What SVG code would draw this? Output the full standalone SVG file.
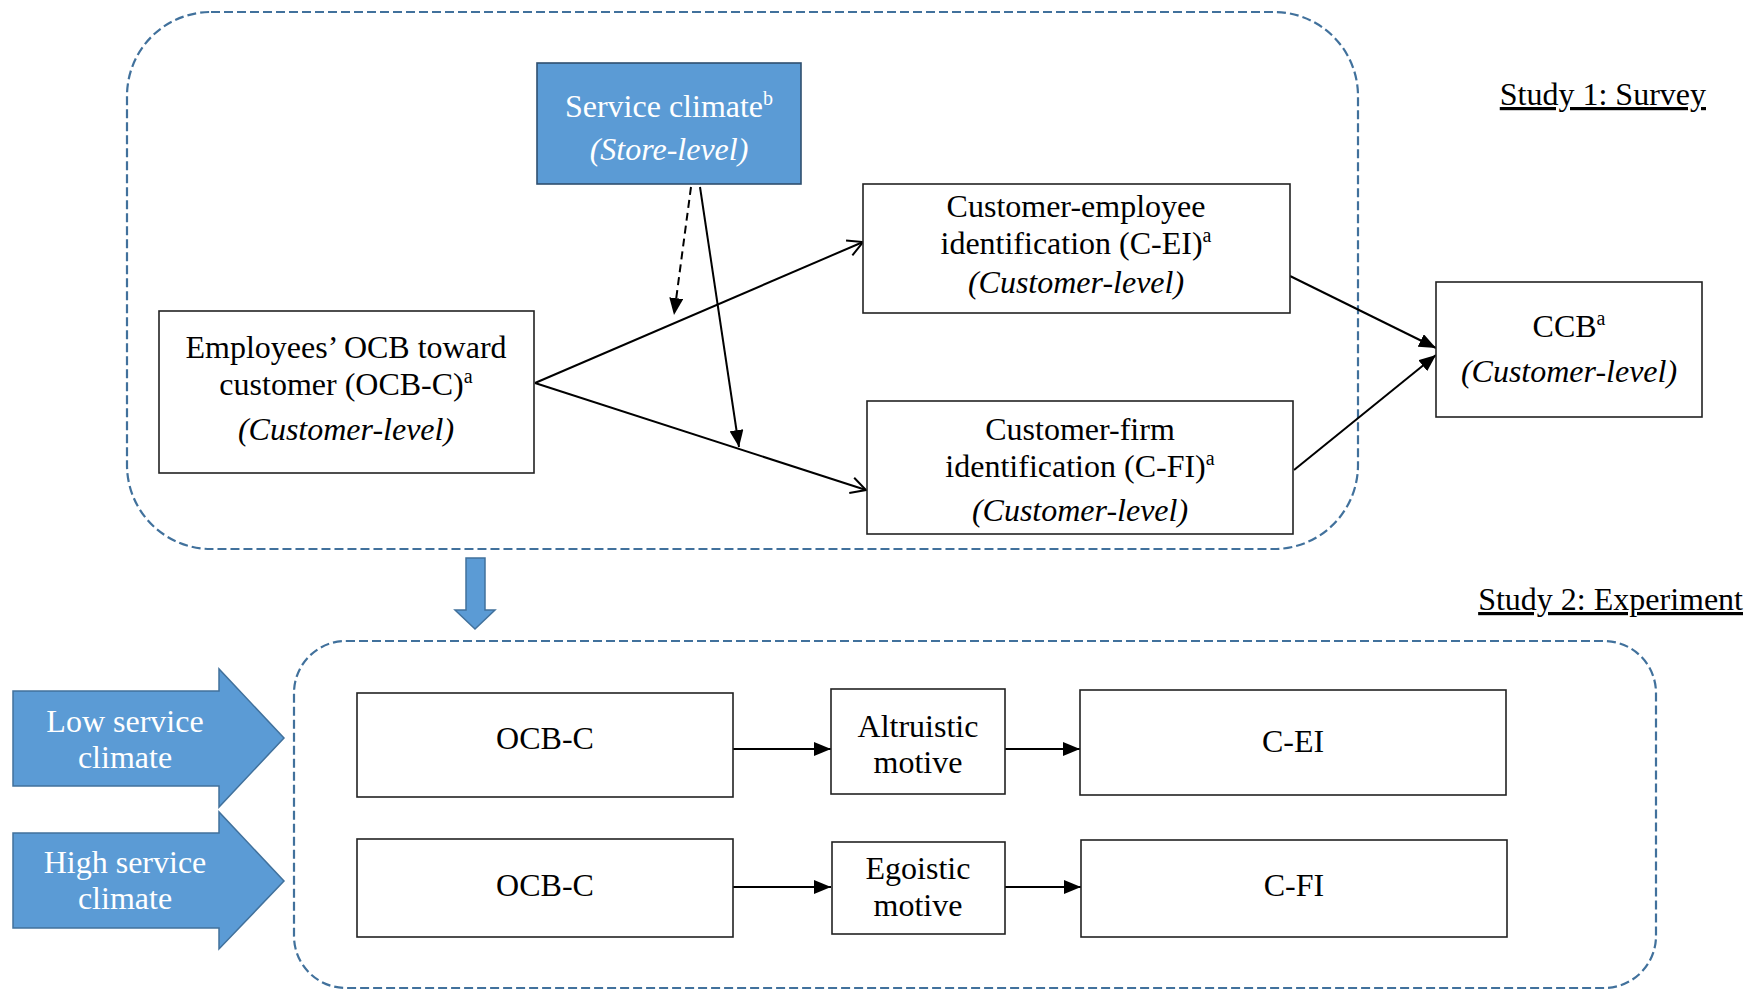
<svg xmlns="http://www.w3.org/2000/svg" width="1763" height="990" viewBox="0 0 1763 990">
<style>
text{font-family:"Liberation Serif","Times New Roman",serif;font-size:32px;fill:#000;text-anchor:middle}
.w{fill:#fff}
.it{font-style:italic}
.box{fill:#fff;stroke:#222;stroke-width:1.6}
.blue{fill:#5B9BD5;stroke:#2F4F6F;stroke-width:1.6}
.bshape{fill:#5B9BD5;stroke:#41719C;stroke-width:1.5}
.dash{fill:none;stroke:#41719C;stroke-width:2.2;stroke-dasharray:9 4}
.ln{fill:none;stroke:#000;stroke-width:2}
.sup{font-size:20px}
.lbl{text-anchor:end;text-decoration:underline}
</style>
<defs>
<marker id="fa" markerUnits="userSpaceOnUse" markerWidth="18" markerHeight="14" refX="17" refY="7" orient="auto">
<path d="M0,0 L17,7 L0,14 z" fill="#000"/>
</marker>
<marker id="oa" markerUnits="userSpaceOnUse" markerWidth="18" markerHeight="18" refX="16" refY="9" orient="auto">
<path d="M1,1 L16,9 L1,17" fill="none" stroke="#000" stroke-width="2"/>
</marker>
</defs>

<g id="containers">
<rect x="127" y="12" width="1231" height="537" rx="84" ry="84" class="dash"/>
<rect x="294" y="641" width="1362" height="347" rx="52" ry="52" class="dash"/>
</g>

<g id="labels">
<text x="1706" y="105" class="lbl">Study 1: Survey</text>
<text x="1743" y="610" class="lbl">Study 2: Experiment</text>
</g>

<g id="connectors">
<line x1="535" y1="383" x2="863" y2="242" class="ln" marker-end="url(#oa)"/>
<line x1="535" y1="383" x2="866" y2="490" class="ln" marker-end="url(#oa)"/>
<line x1="691" y1="187" x2="674" y2="315" class="ln" stroke-dasharray="8 5" marker-end="url(#fa)"/>
<line x1="700" y1="187" x2="739" y2="447" class="ln" marker-end="url(#fa)"/>
<line x1="1290" y1="276" x2="1436" y2="348" class="ln" marker-end="url(#fa)"/>
<line x1="1294" y1="470" x2="1436" y2="355" class="ln" marker-end="url(#fa)"/>
<line x1="733" y1="749" x2="831" y2="749" class="ln" marker-end="url(#fa)"/>
<line x1="1005" y1="749" x2="1080" y2="749" class="ln" marker-end="url(#fa)"/>
<line x1="733" y1="887" x2="831" y2="887" class="ln" marker-end="url(#fa)"/>
<line x1="1005" y1="887" x2="1081" y2="887" class="ln" marker-end="url(#fa)"/>
<polygon points="466,558 485,558 485,610 495,610 475,629 455,610 466,610" class="bshape"/>
</g>

<g id="service-climate">
<rect x="537" y="63" width="264" height="121" class="blue"/>
<text x="669" y="117" class="w">Service climate<tspan class="sup w" dy="-12">b</tspan></text>
<text x="669" y="160" class="w it">(Store-level)</text>
</g>

<g id="ocb-c">
<rect x="159" y="311" width="375" height="162" class="box"/>
<text x="346" y="358">Employees’ OCB toward</text>
<text x="346" y="395">customer (OCB-C)<tspan class="sup" dy="-12">a</tspan></text>
<text x="346" y="440" class="it">(Customer-level)</text>
</g>

<g id="c-ei">
<rect x="863" y="184" width="427" height="129" class="box"/>
<text x="1076" y="217">Customer-employee</text>
<text x="1076" y="254">identification (C-EI)<tspan class="sup" dy="-12">a</tspan></text>
<text x="1076" y="293" class="it">(Customer-level)</text>
</g>

<g id="c-fi">
<rect x="867" y="401" width="426" height="133" class="box"/>
<text x="1080" y="440">Customer-firm</text>
<text x="1080" y="477">identification (C-FI)<tspan class="sup" dy="-12">a</tspan></text>
<text x="1080" y="521" class="it">(Customer-level)</text>
</g>

<g id="ccb">
<rect x="1436" y="282" width="266" height="135" class="box"/>
<text x="1569" y="337">CCB<tspan class="sup" dy="-12">a</tspan></text>
<text x="1569" y="382" class="it">(Customer-level)</text>
</g>

<g id="low-climate">
<polygon points="13,691 219,691 219,669 284,738 219,807 219,786 13,786" class="bshape"/>
<text x="125" y="732" class="w">Low service</text>
<text x="125" y="768" class="w">climate</text>
</g>

<g id="high-climate">
<polygon points="13,833 219,833 219,812 284,881 219,949 219,928 13,928" class="bshape"/>
<text x="125" y="873" class="w">High service</text>
<text x="125" y="909" class="w">climate</text>
</g>

<g id="ocb-c-1">
<rect x="357" y="693" width="376" height="104" class="box"/>
<text x="545" y="749">OCB-C</text>
</g>

<g id="ocb-c-2">
<rect x="357" y="839" width="376" height="98" class="box"/>
<text x="545" y="896">OCB-C</text>
</g>

<g id="altruistic">
<rect x="831" y="689" width="174" height="105" class="box"/>
<text x="918" y="737">Altruistic</text>
<text x="918" y="773">motive</text>
</g>

<g id="egoistic">
<rect x="832" y="842" width="173" height="92" class="box"/>
<text x="918" y="879">Egoistic</text>
<text x="918" y="916">motive</text>
</g>

<g id="c-ei-2">
<rect x="1080" y="690" width="426" height="105" class="box"/>
<text x="1293" y="752">C-EI</text>
</g>

<g id="c-fi-2">
<rect x="1081" y="840" width="426" height="97" class="box"/>
<text x="1294" y="896">C-FI</text>
</g>
</svg>
